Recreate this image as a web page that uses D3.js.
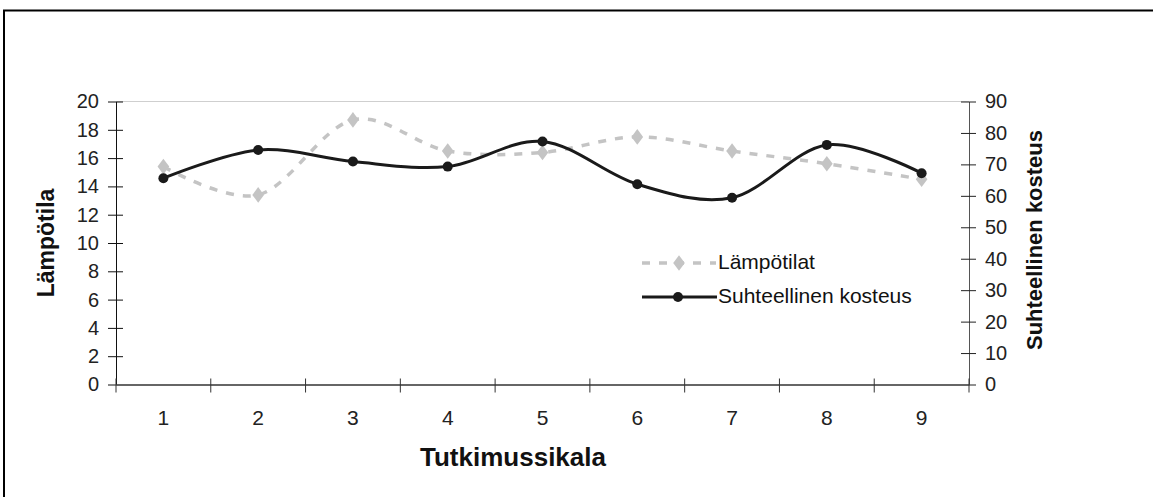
<!DOCTYPE html>
<html>
<head>
<meta charset="utf-8">
<script src="https://cdn.jsdelivr.net/npm/d3@7"></script>
<style>
  html, body { margin: 0; background: #fff; overflow: hidden; }
  svg { display: block; font-family: "Liberation Sans", Arial, sans-serif; }
</style>
</head>
<body>
<div id="chart"></div>
<script>
const categories = [1, 2, 3, 4, 5, 6, 7, 8, 9];
const temperatures = [15.4, 13.4, 18.7, 16.5, 16.4, 17.5, 16.5, 15.6, 14.5];
const humidity = [65.6, 74.6, 70.9, 69.3, 77.3, 63.7, 59.4, 76.2, 67.2];
const leftTicks = [0, 2, 4, 6, 8, 10, 12, 14, 16, 18, 20];
const rightTicks = [0, 10, 20, 30, 40, 50, 60, 70, 80, 90];

const width = 1153, height = 497;
const plotLeft = 116, plotRight = 969, plotTop = 101.5, plotBottom = 384.5;

const svg = d3.select("#chart").append("svg")
    .attr("width", width)
    .attr("height", height);

// outer frame (only top and left edges fall inside the picture)
svg.append("path")
    .attr("d", `M4,${height}V10.5H${width}`)
    .style("fill", "none")
    .style("stroke", "black")
    .style("stroke-width", "2px");

const x = d3.scaleBand().domain(categories).range([plotLeft, plotRight]);
const yL = d3.scaleLinear().domain([0, 20]).range([plotBottom, plotTop]);
const yR = d3.scaleLinear().domain([0, 90]).range([plotBottom, plotTop]);
const cx = d => x(d) + x.bandwidth() / 2;

// top gridline
svg.append("line")
    .attr("x1", plotLeft).attr("x2", plotRight)
    .attr("y1", yL(20)).attr("y2", yL(20))
    .style("stroke", "#cfcfcf")
    .style("stroke-width", "1px");

// left axis
const gL = svg.append("g")
    .attr("transform", `translate(${plotLeft} 0)`)
    .call(d3.axisLeft(yL).tickValues(leftTicks).tickSizeOuter(0).tickPadding(17));
gL.select(".domain").style("stroke", "#111");
gL.selectAll(".tick line").attr("x1", -8).attr("x2", 7).style("stroke", "#111");
gL.selectAll(".tick text").style("font-size", "20px").style("fill", "#222")
    .style("font-family", "Liberation Sans, Arial, sans-serif").attr("x", -17);

// right axis
const gR = svg.append("g")
    .attr("transform", `translate(${plotRight} 0)`)
    .call(d3.axisRight(yR).tickValues(rightTicks).tickSizeOuter(0).tickPadding(16));
gR.select(".domain").style("stroke", "#555");
gR.selectAll(".tick line").attr("x1", -8).attr("x2", 7).style("stroke", "#222");
gR.selectAll(".tick text").style("font-size", "20px").style("fill", "#222")
    .style("font-family", "Liberation Sans, Arial, sans-serif").attr("x", 16);

// bottom axis
const gB = svg.append("g")
    .attr("transform", `translate(0 ${plotBottom})`)
    .call(d3.axisBottom(x).tickSize(0).tickPadding(0));
gB.select(".domain").style("stroke", "#666").style("stroke-width", "2px");
gB.selectAll(".tick text")
    .attr("y", 40).attr("dy", null)
    .style("font-size", "21px").style("fill", "#222")
    .style("font-family", "Liberation Sans, Arial, sans-serif");
gB.selectAll(".boundary")
    .data(d3.range(categories.length + 1))
    .enter().append("line")
    .attr("class", "boundary")
    .attr("x1", i => plotLeft + i * x.step()).attr("x2", i => plotLeft + i * x.step())
    .attr("y1", -6).attr("y2", 8)
    .style("stroke", "#333")
    .style("stroke-width", "1px");

// axis titles
svg.append("text")
    .attr("transform", `translate(54 243) rotate(-90)`)
    .attr("text-anchor", "middle")
    .style("font-size", "23px").style("font-weight", "bold").style("fill", "#111")
    .text("Lämpötila");

svg.append("text")
    .attr("transform", `translate(1042 240) rotate(-90)`)
    .attr("text-anchor", "middle")
    .style("font-size", "22px").style("font-weight", "bold").style("fill", "#111")
    .text("Suhteellinen kosteus");

svg.append("text")
    .attr("x", 513).attr("y", 466)
    .attr("text-anchor", "middle")
    .style("font-size", "26px").style("font-weight", "bold").style("fill", "#111")
    .text("Tutkimussikala");

// series
const curve = d3.curveCardinal.tension(0);
const tempLine = d3.line().x((d, i) => cx(categories[i])).y(d => yL(d)).curve(curve);
const humLine = d3.line().x((d, i) => cx(categories[i])).y(d => yR(d)).curve(curve);
const diamond = d3.symbol().type(d3.symbolDiamond).size(70);

svg.append("path")
    .attr("d", tempLine(temperatures))
    .style("fill", "none")
    .style("stroke", "#c4c4c4")
    .style("stroke-width", "3.5px")
    .style("stroke-dasharray", "8 9");

svg.selectAll(".tmark")
    .data(temperatures)
    .enter().append("path")
    .attr("class", "tmark")
    .attr("d", diamond)
    .attr("transform", (d, i) => `translate(${cx(categories[i])} ${yL(d)}) scale(1.3 1)`)
    .style("fill", "#c4c4c4");

svg.append("path")
    .attr("d", humLine(humidity))
    .style("fill", "none")
    .style("stroke", "#1a1a1a")
    .style("stroke-width", "3px");

svg.selectAll(".hmark")
    .data(humidity)
    .enter().append("circle")
    .attr("class", "hmark")
    .attr("cx", (d, i) => cx(categories[i]))
    .attr("cy", d => yR(d))
    .attr("r", 5)
    .style("fill", "#1a1a1a");

// legend
const legend = svg.append("g");
legend.append("line")
    .attr("x1", 642).attr("x2", 716).attr("y1", 263).attr("y2", 263)
    .style("stroke", "#c4c4c4").style("stroke-width", "3.5px")
    .style("stroke-dasharray", "8 9");
legend.append("path")
    .attr("d", diamond)
    .attr("transform", "translate(679 263) scale(1.3 1)")
    .style("fill", "#c4c4c4");
legend.append("text")
    .attr("x", 718).attr("y", 269)
    .style("font-size", "21px").style("fill", "#111")
    .text("Lämpötilat");

legend.append("line")
    .attr("x1", 642).attr("x2", 717).attr("y1", 297).attr("y2", 297)
    .style("stroke", "#1a1a1a").style("stroke-width", "3px");
legend.append("circle")
    .attr("cx", 678).attr("cy", 297).attr("r", 5)
    .style("fill", "#1a1a1a");
legend.append("text")
    .attr("x", 718).attr("y", 303)
    .style("font-size", "21px").style("fill", "#111")
    .text("Suhteellinen kosteus");
</script>
</body>
</html>
